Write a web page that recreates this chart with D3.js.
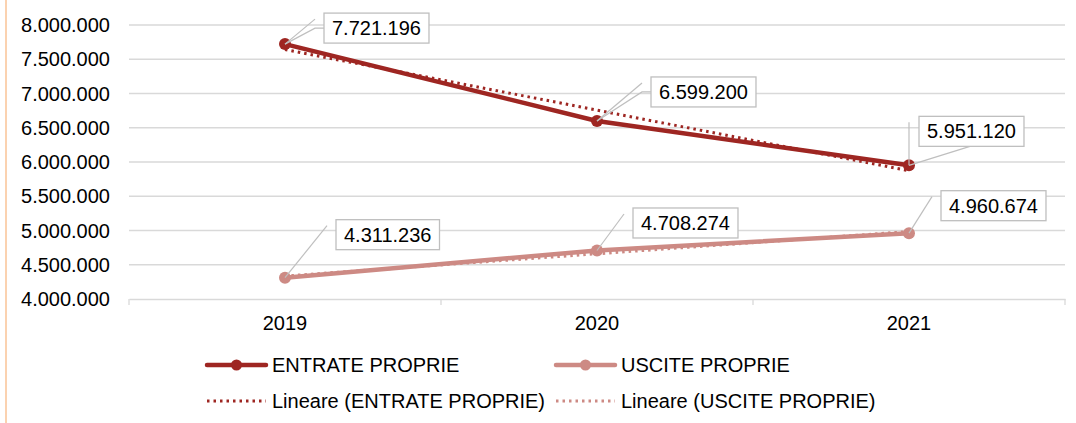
<!DOCTYPE html>
<html>
<head>
<meta charset="utf-8">
<script src="https://cdn.jsdelivr.net/npm/d3@7"></script>
<style>
  body { margin: 0; background: #fff; }
  text { font-family: "Liberation Sans", Arial, sans-serif; fill: #000; }
</style>
</head>
<body>
<svg id="chart" width="1076" height="423"></svg>
<script>
// data
var years = ["2019", "2020", "2021"];
var entrate = [7721196, 6599200, 5951120];
var uscite = [4311236, 4708274, 4960674];
var seriesNames = ["ENTRATE PROPRIE", "USCITE PROPRIE"];
var yTicks = [4000000, 4500000, 5000000, 5500000, 6000000, 6500000, 7000000, 7500000, 8000000];

var colors = ["#9e2622", "#cd8a84"];

var svg = d3.select("#chart"),
    width = +svg.attr("width"),
    height = +svg.attr("height");

var it = d3.formatLocale({decimal: ",", thousands: ".", grouping: [3], currency: ["", "€"]});
var fmt = it.format(",.0f");

var x = d3.scaleBand().domain(years).range([129, 1065]).padding(0);
var y = d3.scaleLinear().domain([4000000, 8000000]).range([299, 25]);
function cx(d) { return x(d) + x.bandwidth() / 2; }

// left border
svg.append("line")
    .attr("x1", 6).attr("x2", 6).attr("y1", 0).attr("y2", height)
    .attr("stroke", "#fbd2b0").attr("stroke-width", 2);

// gridlines
svg.append("g")
    .selectAll("line")
    .data(yTicks.slice(1))
    .enter().append("line")
    .attr("x1", 129).attr("x2", 1065)
    .attr("y1", function(d) { return y(d); })
    .attr("y2", function(d) { return y(d); })
    .attr("stroke", "#d9d9d9").attr("stroke-width", 1.3);

// y labels
svg.append("g")
    .selectAll("text")
    .data(yTicks)
    .enter().append("text")
    .attr("x", 110)
    .attr("y", function(d) { return y(d); })
    .attr("dy", "0.35em")
    .attr("text-anchor", "end")
    .attr("font-size", 20)
    .text(function(d) { return fmt(d); });

// x axis
var xAxis = d3.axisBottom(x).tickSize(0).tickFormat(function(d) { return d; });
var gx = svg.append("g").attr("transform", "translate(0," + y(4000000) + ")").call(xAxis);
gx.select(".domain").attr("stroke", "#d9d9d9").attr("stroke-width", 1.3);
gx.selectAll("text").attr("font-size", 20).attr("font-family", "Liberation Sans, Arial, sans-serif")
    .attr("fill", "#000").attr("y", 31).attr("dy", 0);
var bounds = years.map(function(d) { return x(d); }).concat([x.range()[1]]);
gx.selectAll(".bound")
    .data(bounds)
    .enter().append("line")
    .attr("class", "bound")
    .attr("x1", function(d) { return d; }).attr("x2", function(d) { return d; })
    .attr("y1", 0).attr("y2", 6)
    .attr("stroke", "#d9d9d9").attr("stroke-width", 1.3);

// linear trendlines (least squares over 1..n)
function trend(vals) {
    var n = vals.length, xs = d3.range(1, n + 1);
    var mx = d3.mean(xs), my = d3.mean(vals);
    var b = d3.sum(xs, function(v, i) { return (v - mx) * (vals[i] - my); }) /
            d3.sum(xs, function(v) { return (v - mx) * (v - mx); });
    var a = my - b * mx;
    return xs.map(function(v) { return a + b * v; });
}

var line = d3.line()
    .x(function(d, i) { return cx(years[i]); })
    .y(function(d) { return y(d); });

var allSeries = [entrate, uscite];

allSeries.forEach(function(vals, s) {
    svg.append("path")
        .attr("d", line(vals))
        .attr("fill", "none")
        .attr("stroke", colors[s])
        .attr("stroke-width", 4.5)
        .attr("stroke-linejoin", "round");
    svg.append("g")
        .selectAll("circle")
        .data(vals)
        .enter().append("circle")
        .attr("cx", function(d, i) { return cx(years[i]); })
        .attr("cy", function(d) { return y(d); })
        .attr("r", 6)
        .attr("fill", colors[s]);
});

allSeries.forEach(function(vals, s) {
    svg.append("path")
        .attr("d", line(trend(vals)))
        .attr("fill", "none")
        .attr("stroke", colors[s])
        .attr("stroke-width", 3)
        .attr("stroke-dasharray", "2.5,4");
});

// data labels: box offset from the point (top-left corner)
var labelPos = [
    [[39, -31], [54, -44], [10, -49]],
    [[51, -58], [36, -42.5], [32, -42.5]]
];

var labels = svg.append("g");
allSeries.forEach(function(vals, s) {
    vals.forEach(function(v, i) {
        var px = cx(years[i]), py = y(v);
        var bx = px + labelPos[s][i][0], by = py + labelPos[s][i][1];
        var g = labels.append("g");
        var t = g.append("text")
            .attr("font-size", 20)
            .attr("y", by + 15)
            .attr("dy", "0.35em")
            .text(fmt(v));
        var tw = t.node().getComputedTextLength();
        var bw = tw + 16, bh = 30;
        t.attr("x", bx + 8);
        var leads;
        if (s == 0 && i == 2) {
            leads = [[[px, py], [px, by + 6]], [[px, py], [bx + 51, by + bh]]];
        } else if (s == 0) {
            leads = [[[px, py], [bx - 9, by + 6]], [[px, py], [bx - 9, by + bh / 2], [bx, by + bh / 2]]];
        } else {
            leads = [[[px, py], [bx - 9, by + 6]]];
        }
        leads.forEach(function(pts) {
            g.insert("path", "text")
                .attr("d", d3.line()(pts))
                .attr("fill", "none")
                .attr("stroke", "#bfbfbf")
                .attr("stroke-width", 1.2);
        });
        g.insert("rect", "text")
            .attr("x", bx).attr("y", by)
            .attr("width", bw).attr("height", bh)
            .attr("fill", "#fff")
            .attr("stroke", "#bfbfbf")
            .attr("stroke-width", 1.3);
    });
});

// legend
var legendCols = [207, 556];
var legendRows = [365, 401];
var legend = svg.append("g");
seriesNames.forEach(function(name, s) {
    var lx = legendCols[s];
    legend.append("line")
        .attr("x1", lx).attr("x2", lx + 59)
        .attr("y1", legendRows[0]).attr("y2", legendRows[0])
        .attr("stroke", colors[s]).attr("stroke-width", 4.5).attr("stroke-linecap", "round");
    legend.append("circle")
        .attr("cx", lx + 29.5).attr("cy", legendRows[0]).attr("r", 5.5)
        .attr("fill", colors[s]);
    legend.append("text")
        .attr("x", lx + 65).attr("y", legendRows[0]).attr("dy", "0.35em")
        .attr("font-size", 20)
        .text(name);
    legend.append("line")
        .attr("x1", lx).attr("x2", lx + 59)
        .attr("y1", legendRows[1]).attr("y2", legendRows[1])
        .attr("stroke", colors[s]).attr("stroke-width", 3).attr("stroke-dasharray", "2.5,4");
    legend.append("text")
        .attr("x", lx + 65).attr("y", legendRows[1]).attr("dy", "0.35em")
        .attr("font-size", 20)
        .text("Lineare (" + name + ")");
});
</script>
</body>
</html>
